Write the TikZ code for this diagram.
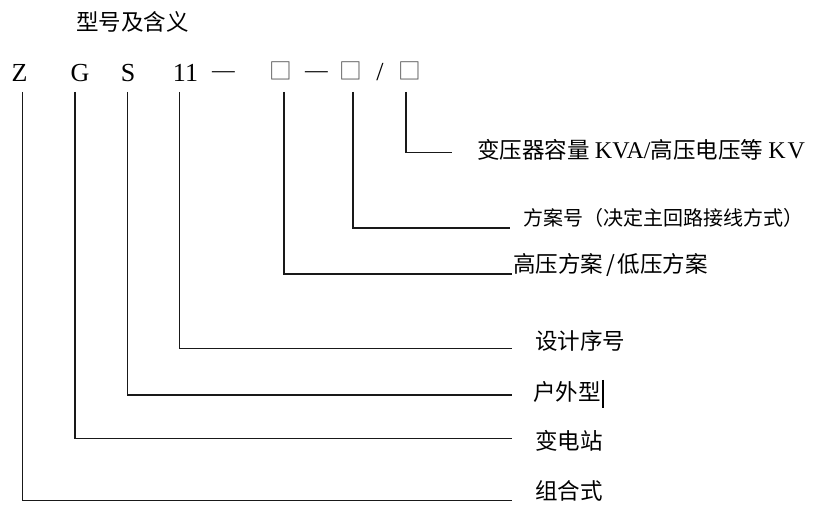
\documentclass[tikz,border=0pt]{standalone}
\usepackage{fontspec}
\setmainfont{Liberation Serif}
\newfontfamily\cjk{Noto Sans CJK SC}
\begin{document}
\begin{tikzpicture}[x=0.75pt,y=-0.75pt,
  conn/.style={line width=1.05pt, black!90},
  lab/.style={anchor=west, inner sep=0pt, font=\cjk\fontsize{16.9}{18}\selectfont},
  code/.style={anchor=base, inner sep=0pt, font=\fontsize{19.5}{20}\selectfont},
  dsh/.style={anchor=base, inner sep=0pt, font=\fontsize{17}{18}\selectfont},
  sq/.style={anchor=center, inner sep=0pt, text=black!70, font=\cjk\fontsize{17}{18}\selectfont}]
\useasboundingbox (0,0) rectangle (817,505);
% title
\node[lab] (title) at (76,22) {型号及含义};
% code row
\node[code] (Z) at (19.5,82) {Z};
\node[code] (G) at (80,82) {G};
\node[code] (S) at (128,82) {S};
\node[code] (n11) at (185.5,82) {11};
\node[dsh] (d1) at (223.5,78) {—};
\node[sq] (b1) at (281,70.5) {□};
\node[dsh] (d2) at (316.5,78) {—};
\node[sq] (b2) at (350.5,70.5) {□};
\node[code] (sl) at (380,81) {/};
\node[sq] (b3) at (409.5,70.5) {□};
% labels
\node[lab] (L7) at (477,150) {变压器容量 {\rmfamily\fontsize{18}{19}\selectfont KVA/}高压电压等 {\rmfamily\fontsize{18}{19}\selectfont K\kern1.5pt V}};
\node[lab, font=\cjk\fontsize{15}{16}\selectfont] (L6) at (523,218) {方案号（决定主回路接线方式）};
\node[lab] (L5) at (513,265) {高压方案\kern2pt/\kern2pt 低压方案};
\node[lab] (L4) at (535,341) {设计序号};
\node[lab] (L3) at (533,392) {户外型};
\node[lab] (L2) at (535,441) {变电站};
\node[lab] (L1) at (535,491) {组合式};
% connector end points
\coordinate (zt) at (22.7,92);  \coordinate (ze) at (512,500.7);
\coordinate (gt) at (75,92);    \coordinate (ge) at (512,438.5);
\coordinate (st) at (127.7,92); \coordinate (se) at (512,395);
\coordinate (nt) at (179.5,92); \coordinate (ne) at (512,348.3);
\coordinate (b1t) at (284,92);  \coordinate (b1e) at (511.7,274);
\coordinate (b2t) at (353,92);  \coordinate (b2e) at (510,228);
\coordinate (b3t) at (406,92);  \coordinate (b3e) at (451.7,152.7);
\draw[conn] (zt) |- (ze);
\draw[conn] (gt) |- (ge);
\draw[conn] (st) |- (se);
\draw[conn] (nt) |- (ne);
\draw[conn] (b1t) |- (b1e);
\draw[conn] (b2t) |- (b2e);
\draw[conn] (b3t) |- (b3e);
% stray cursor bar after 户外型
\coordinate (c1) at (603,380); \coordinate (c2) at (603,408);
\draw[line width=0.8pt] (c1) -- (c2);
\end{tikzpicture}
\end{document}
